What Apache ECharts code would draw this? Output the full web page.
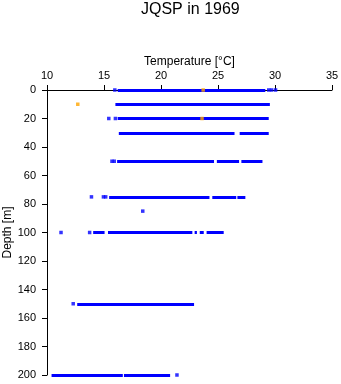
<!DOCTYPE html>
<html>
<head>
<meta charset="utf-8">
<title>JQSP in 1969</title>
<script src="https://cdn.jsdelivr.net/npm/echarts@6/dist/echarts.min.js"></script>
<style>
  html, body { margin: 0; padding: 0; background: #fff; }
  #chart { width: 341px; height: 384px; }
</style>
</head>
<body>
<div id="chart"></div>
<script>
// Temperature profile samples, JQSP station, 1969.
// Continuous runs of samples: [depth (m), from temperature (°C), to temperature (°C)]
const blueRuns = [
  [0, 16.2, 29.15],
  [10, 16.0, 29.55],
  [20, 16.2, 29.45],
  [30, 16.3, 26.45],
  [30, 26.9, 29.45],
  [50, 16.15, 24.65],
  [50, 24.9, 26.85],
  [50, 27.05, 28.9],
  [75, 15.45, 24.25],
  [75, 24.5, 26.6],
  [75, 26.7, 27.4],
  [100, 14.05, 15.05],
  [100, 15.35, 22.75],
  [100, 22.95, 23.15],
  [100, 23.4, 23.75],
  [100, 24.0, 25.5],
  [150, 12.65, 22.9],
  [200, 10.4, 16.65],
  [200, 16.75, 20.8]
];
// Isolated samples: [depth (m), temperature (°C)]
const blueDots = [
  [0, 15.95], [0, 29.45], [0, 29.7], [0, 30.05],
  [20, 15.42], [20, 16.0],
  [50, 15.7], [50, 15.9],
  [75, 13.9], [75, 14.95], [75, 15.15],
  [85, 18.4],
  [100, 11.23], [100, 13.74],
  [150, 12.3],
  [200, 21.4]
];
// Flagged samples
const orangeDots = [[0, 23.7], [10, 12.7], [20, 23.6]];

const tempTicks = [10, 15, 20, 25, 30, 35];
const depthTicks = [0, 20, 40, 60, 80, 100, 120, 140, 160, 180, 200];

const FONT = 'Liberation Sans, Arial, sans-serif';
const BLUE = '#0000ff';
const ORANGE = '#ffa500';

const chart = echarts.init(document.getElementById('chart'), null, { renderer: 'canvas' });

chart.setOption({
  animation: false,
  backgroundColor: '#ffffff',
  title: {
    text: 'JQSP in 1969',
    left: 136,
    top: -3,
    textStyle: { fontFamily: FONT, fontSize: 16, fontWeight: 'normal', color: '#000' }
  },
  grid: {
    left: 47, right: 9, top: 90, bottom: 9,
    containLabel: false,
    outerBoundsMode: 'none'
  },
  xAxis: {
    type: 'value',
    position: 'top',
    min: tempTicks[0],
    max: tempTicks[tempTicks.length - 1],
    interval: tempTicks[1] - tempTicks[0],
    name: 'Temperature [°C]',
    nameLocation: 'middle',
    nameGap: 22,
    nameMoveOverlap: false,
    nameTextStyle: { fontFamily: FONT, fontSize: 12, color: '#000' },
    axisLine: { show: true, onZero: false, lineStyle: { color: '#000', width: 1 } },
    axisTick: { show: true, length: 5, lineStyle: { color: '#000' } },
    axisLabel: { fontFamily: FONT, fontSize: 11, color: '#000', margin: 9 },
    splitLine: { show: false }
  },
  yAxis: {
    type: 'value',
    inverse: true,
    min: depthTicks[0],
    max: depthTicks[depthTicks.length - 1],
    interval: depthTicks[1] - depthTicks[0],
    name: 'Depth [m]',
    nameLocation: 'middle',
    nameGap: 33,
    nameMoveOverlap: false,
    nameTextStyle: { fontFamily: FONT, fontSize: 12, color: '#000' },
    axisLine: { show: true, onZero: false, lineStyle: { color: '#000', width: 1 } },
    axisTick: { show: true, length: 5, lineStyle: { color: '#000' } },
    axisLabel: { fontFamily: FONT, fontSize: 11, color: '#000', margin: 11 },
    splitLine: { show: false }
  },
  series: [
    {
      name: 'runs',
      type: 'lines',
      coordinateSystem: 'cartesian2d',
      clip: false,
      z: 3,
      lineStyle: { color: BLUE, width: 3, opacity: 1, cap: 'butt' },
      data: blueRuns.map(r => ({ coords: [[r[1], r[0]], [r[2], r[0]]] }))
    },
    {
      name: 'samples',
      type: 'scatter',
      clip: false,
      z: 4,
      symbol: 'rect',
      symbolSize: 3.5,
      itemStyle: { color: BLUE },
      data: blueDots.map(p => [p[1], p[0]])
    },
    {
      name: 'flagged',
      type: 'scatter',
      clip: false,
      z: 5,
      symbol: 'rect',
      symbolSize: 3.5,
      itemStyle: { color: ORANGE },
      data: orangeDots.map(p => [p[1], p[0]])
    }
  ]
});
</script>
</body>
</html>
